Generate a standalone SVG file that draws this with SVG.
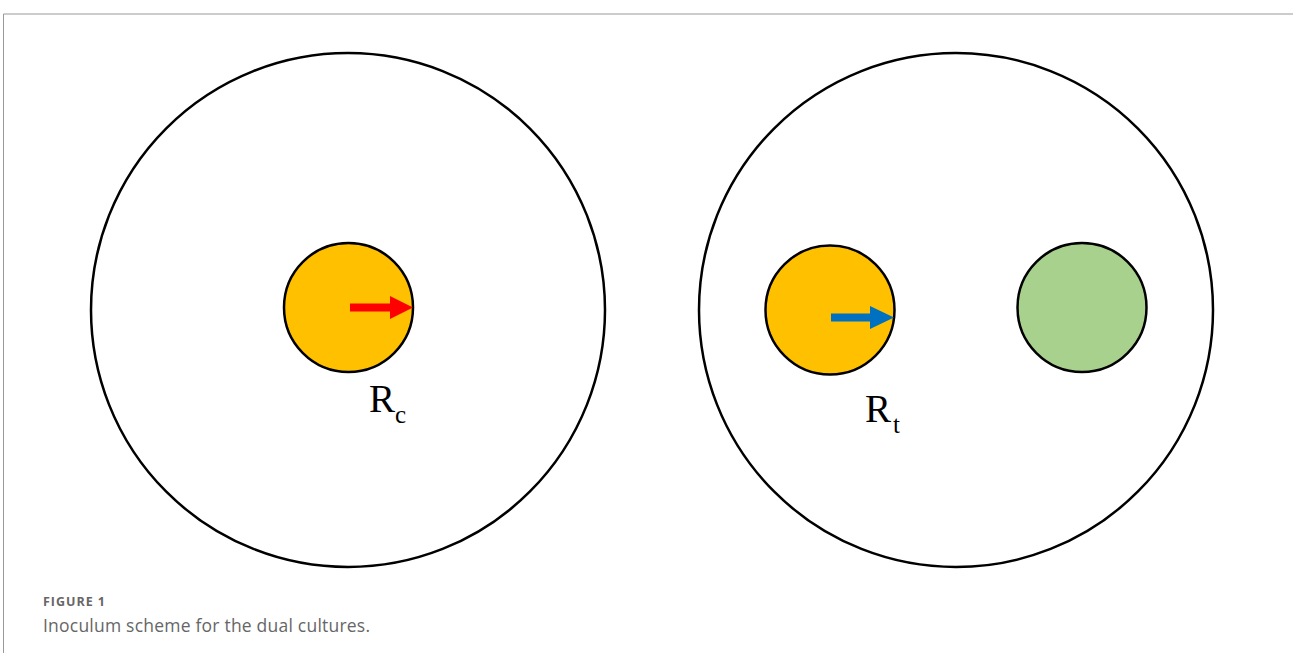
<svg xmlns="http://www.w3.org/2000/svg" width="1293" height="653" viewBox="0 0 1293 653">
<style>
.dish{fill:#fff;stroke:#000;stroke-width:2.5}
.plug{stroke:#000;stroke-width:2.5}
.lbl{font-family:"Liberation Serif",serif;fill:#000}
.cap{font-family:"Open Sans",Lato,sans-serif;fill:#666}
</style>
<rect width="1293" height="653" fill="#fff"/>
<line x1="3.5" y1="14" x2="1293" y2="14" stroke="#bbb" stroke-width="1.5"/>
<line x1="3.5" y1="14" x2="3.5" y2="653" stroke="#999" stroke-width="1"/>
<g id="dish-control">
<circle class="dish" cx="348" cy="310" r="257"/>
</g>
<g id="dish-test">
<circle class="dish" cx="956" cy="310" r="257"/>
</g>
<g id="plug-control">
<circle class="plug" cx="348.5" cy="307.5" r="64.5" fill="#FFC000"/>
</g>
<g id="plug-test">
<circle class="plug" cx="830" cy="310" r="64.5" fill="#FFC000"/>
</g>
<g id="plug-antagonist">
<circle class="plug" cx="1082" cy="307.5" r="64.5" fill="#A9D18E"/>
</g>
<g id="connectors">
<path d="M350 303.5 H390 V296 L413 307.5 L390 319 V311.5 H350 Z" fill="#FF0000"/>
<path d="M831 313.5 H870 V306 L894 317.5 L870 329 V321.5 H831 Z" fill="#0070C0"/>
</g>
<g id="label-rc">
<text class="lbl" x="369" y="412" font-size="39">R<tspan font-size="25" dy="11">c</tspan></text>
</g>
<g id="label-rt">
<text class="lbl" x="865" y="422" font-size="39">R<tspan font-size="25" dy="11" dx="2">t</tspan></text>
</g>
<g id="caption">
<text class="cap" x="43" y="606" font-size="12.5" font-weight="bold" textLength="62">FIGURE 1</text>
<text class="cap" x="43" y="632" font-size="17.5" textLength="327">Inoculum scheme for the dual cultures.</text>
</g>
</svg>
